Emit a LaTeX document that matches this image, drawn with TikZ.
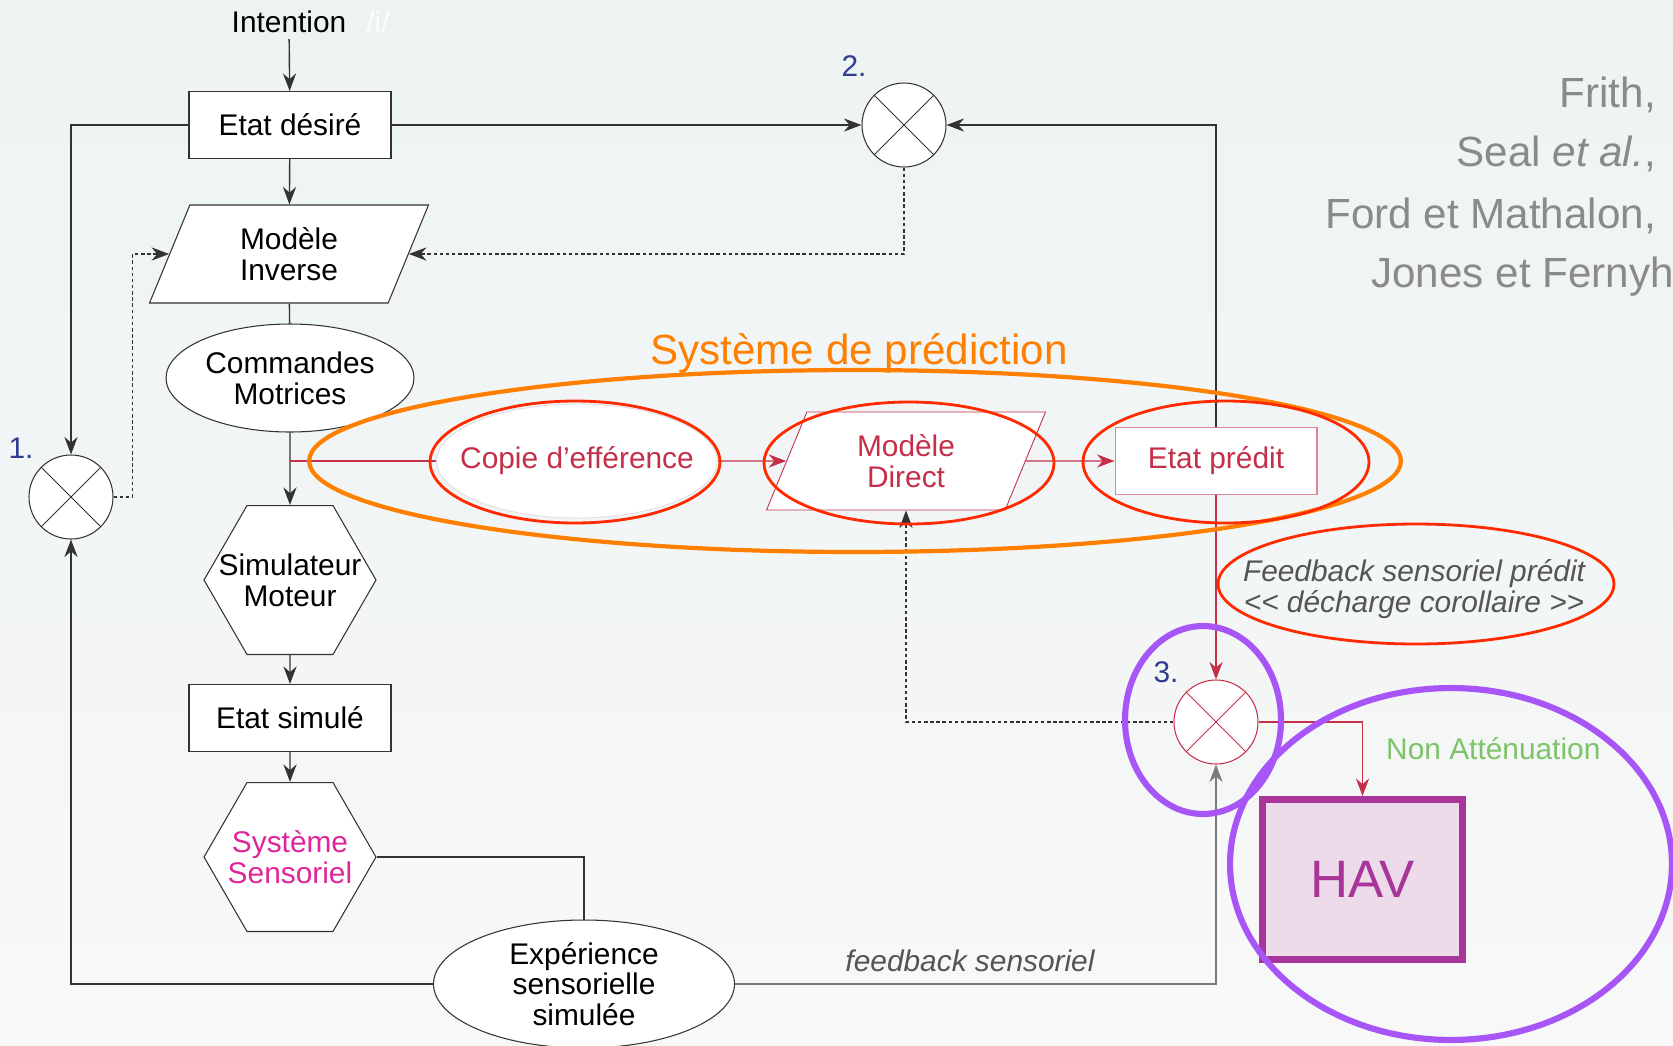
\documentclass[tikz,border=0pt]{standalone}
\usepackage{fontspec}
\setmainfont{Liberation Sans}
\usepackage{xcolor}
\definecolor{ink}{HTML}{333333}
\definecolor{fbgray}{HTML}{7A7A7A}
\definecolor{refgray}{HTML}{8A8A8A}
\definecolor{txtgray}{HTML}{555555}
\definecolor{predred}{HTML}{C4304A}
\definecolor{predpink}{HTML}{D98893}
\definecolor{ringred}{HTML}{FF2A00}
\definecolor{ringorange}{HTML}{FF8000}
\definecolor{ringpurple}{HTML}{A855F7}
\definecolor{havpurple}{HTML}{A8369A}
\definecolor{havfill}{HTML}{EDDBEA}
\definecolor{sensmagenta}{HTML}{E0259B}
\definecolor{numblue}{HTML}{2E3D8F}
\definecolor{greentxt}{HTML}{7CC36A}
\definecolor{bgtop}{HTML}{EDF3F3}
\definecolor{bgbot}{HTML}{F8F8F8}
\usetikzlibrary{arrows.meta, positioning, calc, shapes.geometric}
\newcommand{\boxfont}{\fontsize{17}{17.5}\selectfont}

\begin{document}
\begin{tikzpicture}[x=0.02cm, y=-0.02cm, >={Stealth[length=10pt, width=7.5pt]},
  every node/.style={font=\boxfont, align=center},
  flow/.style={draw=ink, line width=0.8pt},
  fbline/.style={draw=fbgray, line width=0.8pt},
  dotline/.style={draw=ink, line width=0.6pt, dash pattern=on 2pt off 1.5pt},
  predline/.style={draw=predred, line width=0.7pt},
  box/.style={draw=ink, fill=white, line width=0.6pt, minimum width=4.04cm, minimum height=1.34cm},
  para/.style={trapezium, trapezium left angle=54.5, trapezium right angle=125.5,
    trapezium stretches body, draw=ink, fill=white, line width=0.6pt,
    minimum width=5.58cm, minimum height=1.96cm, inner sep=1pt},
  oval/.style={ellipse, draw=ink, fill=white, line width=0.6pt, inner sep=0pt},
  hexa/.style={regular polygon, regular polygon sides=6, draw=ink, fill=white,
    line width=0.6pt, minimum size=3.44cm, inner sep=-22pt},
  mult/.style={circle, draw=#1, fill=white, line width=0.6pt, minimum size=1.68cm, inner sep=0pt,
    path picture={\draw[#1, line width=0.5pt]
      (path picture bounding box.north west) -- (path picture bounding box.south east)
      (path picture bounding box.north east) -- (path picture bounding box.south west);}},
  mult/.default=ink,
  numlabel/.style={text=numblue},
  reftext/.style={text=refgray, font=\fontsize{24}{26}\selectfont, anchor=base east},
  ring/.style={line width=#1},
  havbox/.style={draw=havpurple, fill=havfill, line width=4pt, text=havpurple,
    minimum width=4cm, minimum height=3.2cm, font=\fontsize{30}{32}\selectfont}]

  % Background
  \useasboundingbox (0,0) rectangle (1673,1045);
  \fill[top color=bgtop, bottom color=bgbot] (0,0) rectangle (1673,1045);
  \clip (0,0) rectangle (1673,1045);

  % References
  \node[reftext] (rfrith) at (1662,107) {Frith,};
  \node[reftext] (rseal) at (1662,166) {Seal \textit{et al.},};
  \node[reftext] (rford) at (1662,228) {Ford et Mathalon,};
  \node[reftext] (rjones) at (1680,287) {Jones et Fernyh};

  % Motor chain
  \node (intent) at (289,22) {Intention};
  \node[text=white, opacity=0.85] (phon) at (378,22) {/i/};
  \node[box] (ed) at (290,125) {Etat désiré};
  \node[para] (mi) at (289,254) {Modèle\\Inverse};
  \node[oval, minimum width=4.96cm, minimum height=2.16cm] (cm) at (290,378) {Commandes\\Motrices};
  \node[hexa] (sm) at (290,580) {Simulateur\\Moteur};
  \node[box] (es) at (290,718) {Etat simulé};
  \node[hexa, text=sensmagenta] (ss) at (290,857) {Système\\Sensoriel};
  \node[oval, minimum width=6.02cm, minimum height=2.56cm] (exp) at (584,984) {Expérience\\sensorielle\\simulée};

  % Comparators
  \node[mult] (c1) at (71,497) {};
  \node[mult] (c2) at (904,125) {};
  \node[mult=predred] (c3) at (1216,722) {};
  \node[numlabel] (n1) at (21,448) {1.};
  \node[numlabel] (n2) at (854,66) {2.};
  \node[numlabel] (n3) at (1166,672) {3.};

  % Prediction system
  \node[ellipse, draw=gray!25, fill=white, line width=0.5pt, inner xsep=-10pt,
    minimum width=5.6cm, minimum height=2.28cm, text=predred] (copie) at (577,461) {Copie d’efférence};
  \node[para, draw=predred, line width=0.5pt, text=predred] (md) at (906,461) {Modèle\\Direct};
  \node[box, draw=predpink, text=predred] (ep) at (1216,461) {Etat prédit};
  \node[text=ringorange, font=\fontsize{24}{26}\selectfont] (systitle) at (859,353) {Système de prédiction};
  \node[text=txtgray, font=\fontsize{17}{17.2}\selectfont\itshape] (fbpred) at (1414,589)
    {Feedback sensoriel prédit\\<\kern0pt< décharge corollaire >\kern0pt>};

  % Output
  \node[havbox] (hav) at (1362.5,879.5) {HAV};
  \node[text=greentxt, anchor=west] (nonatt) at (1380,749) {Non Atténuation};
  \node[text=txtgray, font=\boxfont\itshape] (fblabel) at (970,961) {feedback sensoriel};

  % Main flow
  \draw[->, flow] (intent) -- (ed);
  \draw[->, flow] (ed) -- (mi);
  \draw[flow] (mi) -- (cm);
  \draw[->, flow] (cm) -- (sm);
  \draw[->, flow] (sm) -- (es);
  \draw[->, flow] (es) -- (ss);
  \draw[flow] (ss.east) -| (exp.north);

  % Loops to the comparators
  \draw[->, flow] (ed.west) -| (c1.north);
  \draw[->, flow] (ed.east) -- (c2.west);
  \draw[->, flow] (ep.north) |- (c2.east);
  \draw[->, flow] (exp.west) -| (c1.south);
  \draw[->, fbline] (exp.east) -| (c3.south);

  % Error signals (dotted)
  \draw[->, dotline] (c1.east) -- ++(19,0) |- (mi.west);
  \draw[->, dotline] (c2.south) |- (mi.east);
  \draw[->, dotline] (c3.west) -| (md.south);

  % Efference copy path
  \draw[predline] (cm.south |- copie.west) -- (copie.west);
  \draw[->, predline] (copie.east) -- (md.west);
  \draw[->, predline] (md.east) -- (ep.west);
  \draw[->, predline] (ep.south) -- (c3.north);
  \draw[->, predline] (c3.east) -| (hav.north);

  % Highlights
  \draw[ringorange, ring=2.4pt] (855,461) ellipse [x radius=10.92cm, y radius=1.82cm];
  \draw[ringred, ring=1.6pt] (575,462) ellipse [x radius=2.9cm, y radius=1.22cm];
  \draw[ringred, ring=1.6pt] (909,463) ellipse [x radius=2.9cm, y radius=1.22cm];
  \draw[ringred, ring=1.6pt] (1226,462) ellipse [x radius=2.86cm, y radius=1.22cm];
  \draw[ringred, ring=1.6pt] (1416,584) ellipse [x radius=3.96cm, y radius=1.2cm];
  \draw[ringpurple, ring=3.5pt] (1203,720) ellipse [x radius=1.56cm, y radius=1.88cm];
  \draw[ringpurple, ring=3.5pt] (1451,864) ellipse [x radius=4.42cm, y radius=3.52cm];

\end{tikzpicture}
\end{document}
